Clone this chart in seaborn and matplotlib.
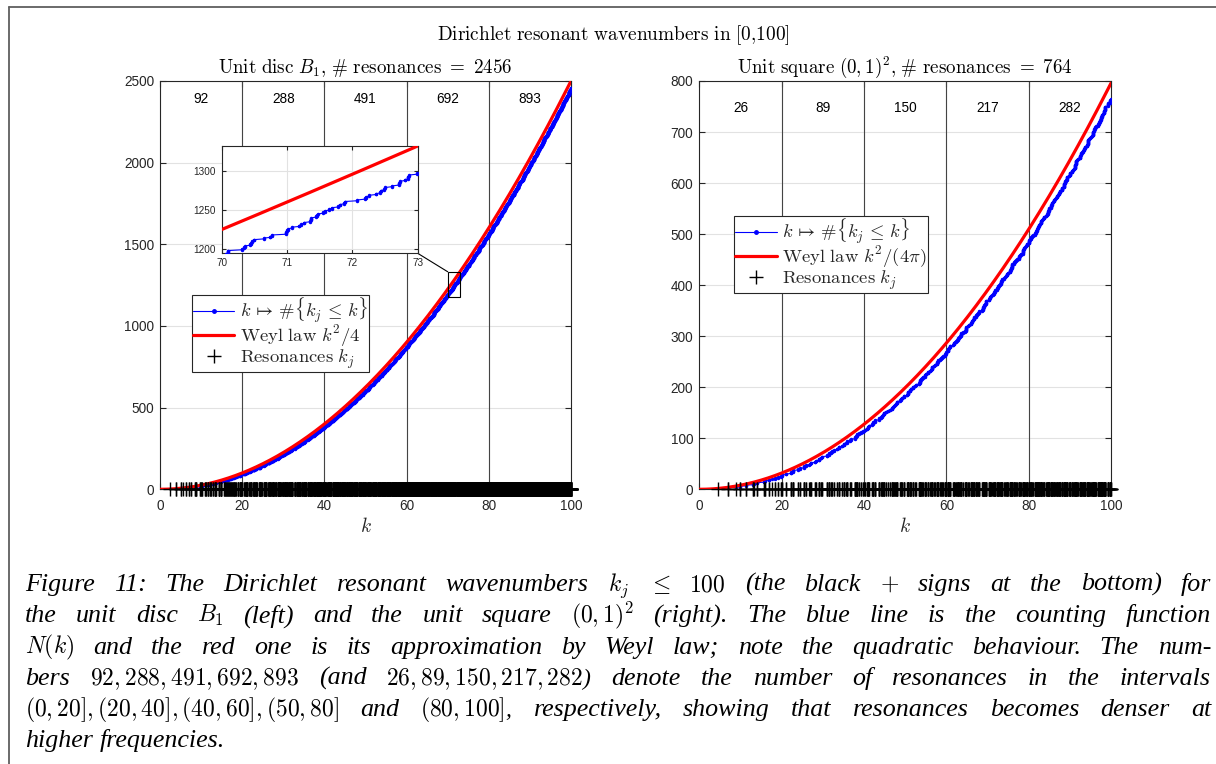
import numpy as np
import pandas as pd
import matplotlib
matplotlib.use("Agg")
import matplotlib.pyplot as plt
import seaborn as sns
from matplotlib.lines import Line2D
from matplotlib.patches import Rectangle, ConnectionPatch

# ---------------------------------------------------------------------------
# Values shown on the chart
# ---------------------------------------------------------------------------
k_max = 100
bin_edges = [0, 20, 40, 60, 80, 100]
disc_counts = [92, 288, 491, 692, 893]          # resonances per interval, unit disc
square_counts = [26, 89, 150, 217, 282]         # resonances per interval, unit square
disc_total = 2456
square_total = 764
x_ticks = [0, 20, 40, 60, 80, 100]
disc_y_ticks = [0, 500, 1000, 1500, 2000, 2500]
square_y_ticks = [0, 100, 200, 300, 400, 500, 600, 700, 800]
disc_ylim = (0, 2500)
square_ylim = (0, 800)
count_label_y = {"disc": 2390, "square": 748}
weyl_disc = 1 / 4                 # area(B_1) / (4 pi)
weyl_square = 1 / (4 * np.pi)     # area((0,1)^2) / (4 pi)
inset_xlim = (70, 73)
inset_ylim = (1194.5, 1332.25)
inset_x_ticks = [70, 71, 72, 73]
inset_y_ticks = [1200, 1250, 1300]
zoom_box = (70, 1178, 3, 154)     # x, y, width, height of the zoom marker

caption_lines = [
    r"Figure 11:  The Dirichlet resonant wavenumbers $k_j$ $\leq$ $100$ (the black $+$ signs at the bottom) for",
    r"the unit disc $B_1$ (left) and the unit square $(0,1)^2$ (right).  The blue line is the counting function",
    r"$N(k)$ and the red one is its approximation by Weyl law; note the quadratic behaviour.  The num-",
    r"bers $92,288,491,692,893$ (and $26,89,150,217,282$) denote the number of resonances in the intervals",
    r"$(0,20],(20,40],(40,60],(50,80]$ and $(80,100]$, respectively, showing that resonances becomes denser at",
    r"higher frequencies.",
]


# ---------------------------------------------------------------------------
# Dirichlet eigen-wavenumbers
# ---------------------------------------------------------------------------
_TAU = np.linspace(0.0, 2 * np.pi, 512, endpoint=False)
_SIN_TAU = np.sin(_TAU)


def bessel_j(n, x):
    """J_n(x) from the Bessel integral, trapezoidal rule (spectrally accurate)."""
    x = np.atleast_1d(np.asarray(x, dtype=float))
    return np.cos(n * _TAU[None, :] - x[:, None] * _SIN_TAU[None, :]).mean(axis=1)


def disc_wavenumbers(kmax):
    roots = []
    for n in range(0, int(kmax) + 1):
        x = np.arange(max(float(n), 0.5), kmax + 0.5, 0.1)
        if x.size < 2:
            break
        f = bessel_j(n, x)
        idx = np.nonzero(np.sign(f[:-1]) * np.sign(f[1:]) < 0)[0]
        if idx.size == 0:
            continue
        a, b, fa = x[idx].copy(), x[idx + 1].copy(), f[idx].copy()
        for _ in range(55):
            c = 0.5 * (a + b)
            fc = bessel_j(n, c)
            same = np.sign(fc) == np.sign(fa)
            a = np.where(same, c, a)
            fa = np.where(same, fc, fa)
            b = np.where(same, b, c)
        z = 0.5 * (a + b)
        z = z[z <= kmax]
        roots.extend(list(z) * (1 if n == 0 else 2))
    return np.sort(np.array(roots))


def square_wavenumbers(kmax):
    m = np.arange(1, int(kmax / np.pi) + 2)
    k = np.pi * np.sqrt(m[:, None] ** 2 + m[None, :] ** 2).ravel()
    return np.sort(k[k <= kmax])


def interval_counts(k):
    return [int(np.sum((k > a) & (k <= b))) for a, b in zip(bin_edges[:-1], bin_edges[1:])]


k_disc = disc_wavenumbers(k_max)
k_square = square_wavenumbers(k_max)
if interval_counts(k_disc) != disc_counts or interval_counts(k_square) != square_counts:
    raise ValueError(f"interval counts {interval_counts(k_disc)} {interval_counts(k_square)}")

# ---------------------------------------------------------------------------
# Style
# ---------------------------------------------------------------------------
sns.set_theme(style="whitegrid")
plt.rcParams["font.family"] = ["Liberation Sans", "DejaVu Sans"]
plt.rcParams["mathtext.fontset"] = "cm"
plt.rcParams["axes.unicode_minus"] = False

AX_COLOR = "#262626"
GRID_COLOR = "#e2e2e2"
BIN_LINE_COLOR = "#444444"

W, H = 1216, 764
fig = plt.figure(figsize=(W / 100, H / 100), dpi=100)
fig.patch.set_facecolor("white")


def px_axes(x0, y_top, x1, y_bot):
    return fig.add_axes([x0 / W, 1 - y_bot / H, (x1 - x0) / W, (y_bot - y_top) / H])


def style_axes(ax, xticks, yticks, xlim, ylim, labelsize, xpad, ypad, ticklen):
    ax.set_xlim(*xlim)
    ax.set_ylim(*ylim)
    ax.set_xticks(xticks)
    ax.set_yticks(yticks)
    ax.set_facecolor("white")
    ax.grid(True, color=GRID_COLOR, lw=0.8)
    ax.set_axisbelow(True)
    for sp in ax.spines.values():
        sp.set_visible(True)
        sp.set_color(AX_COLOR)
        sp.set_linewidth(0.8)
    ax.tick_params(axis="both", which="both", direction="in", top=True, right=True,
                   bottom=True, left=True, length=ticklen, width=0.8,
                   color=AX_COLOR, labelcolor=AX_COLOR, labelsize=labelsize)
    ax.tick_params(axis="x", pad=xpad)
    ax.tick_params(axis="y", pad=ypad)
    ax.set_ylabel("")


def counting_curve(ax, k, lw=0.8, ms=5):
    df = pd.DataFrame({"k": k, "N": np.arange(1, len(k) + 1)})
    sns.lineplot(data=df, x="k", y="N", estimator=None, sort=False, ax=ax,
                 color="blue", lw=lw, marker=".", markersize=ms,
                 markeredgecolor="blue", markeredgewidth=0, zorder=3)


def weyl_curve(ax, coef, x0=0, x1=k_max):
    kk = np.linspace(x0, x1, 600)
    sns.lineplot(x=kk, y=coef * kk ** 2, estimator=None, sort=False, ax=ax,
                 color="red", lw=2.3, zorder=4)


LEGEND_KW = dict(loc="upper left", fontsize=13.4, frameon=True, fancybox=False,
                 framealpha=1, edgecolor=AX_COLOR, handlelength=2.25,
                 handletextpad=0.3, borderpad=0.05, labelspacing=-0.1,
                 borderaxespad=0)


def panel(ax, k, coef, counts, ylim, yticks, label_y, title, weyl_label, legend_anchor):
    counting_curve(ax, k)
    weyl_curve(ax, coef)
    ax.plot(k, np.zeros_like(k), ls="none", marker="+", ms=10, mew=1.0,
            color="black", clip_on=False, zorder=5)
    for e in bin_edges[1:-1]:
        ax.axvline(e, color=BIN_LINE_COLOR, lw=0.8, zorder=1.5)
    for c, a, b in zip(counts, bin_edges[:-1], bin_edges[1:]):
        ax.text((a + b) / 2, label_y, str(c), ha="center", va="center",
                fontsize=9.8, color="black", zorder=6)
    style_axes(ax, x_ticks, yticks, (0, k_max), ylim, 9.8, 7, 4.3, 4)
    ax.set_xlabel(r"$k$", fontsize=14, labelpad=3, color=AX_COLOR)
    ax.set_title(title, fontsize=13.7, pad=6, color="black")

    handles = [
        Line2D([], [], color="blue", lw=0.8, marker=".", ms=5),
        Line2D([], [], color="red", lw=2.3),
        Line2D([], [], color="black", ls="none", marker="+", ms=10, mew=1.0),
    ]
    labels = [r"$k\,\mapsto\,\#\{k_j\,\leq\,k\}$", weyl_label,
              r"$\mathrm{Resonances}\ k_j$"]
    leg = ax.legend(handles, labels, bbox_to_anchor=legend_anchor, **LEGEND_KW)
    leg.get_frame().set_linewidth(0.8)
    leg.set_zorder(10)


# ---------------------------------------------------------------------------
# Left: unit disc
# ---------------------------------------------------------------------------
ax1 = px_axes(160, 81, 571, 489.3)
panel(ax1, k_disc, weyl_disc, disc_counts, disc_ylim, disc_y_ticks,
      count_label_y["disc"],
      r"$\mathrm{Unit\ disc}\ B_1{,}\ \#\ \mathrm{resonances}\ =\ %d$" % disc_total,
      r"$\mathrm{Weyl\ law}\ k^2/4$", (0.077, 0.476))
ax1.add_patch(Rectangle(zoom_box[:2], zoom_box[2], zoom_box[3], fill=False,
                        ec="black", lw=0.8, zorder=7))

# ---------------------------------------------------------------------------
# Right: unit square
# ---------------------------------------------------------------------------
ax2 = px_axes(699.3, 81, 1111, 489.3)
panel(ax2, k_square, weyl_square, square_counts, square_ylim, square_y_ticks,
      count_label_y["square"],
      r"$\mathrm{Unit\ square}\ (0,1)^2{,}\ \#\ \mathrm{resonances}\ =\ %d$" % square_total,
      r"$\mathrm{Weyl\ law}\ k^2/(4\pi)$", (0.084, 0.670))

# ---------------------------------------------------------------------------
# Inset: zoom on the disc counting function
# ---------------------------------------------------------------------------
axin = px_axes(221.7, 146, 417.7, 253.3)
counting_curve(axin, k_disc, lw=0.8, ms=5)
weyl_curve(axin, weyl_disc, inset_xlim[0] - 1, inset_xlim[1] + 1)
style_axes(axin, inset_x_ticks, inset_y_ticks, inset_xlim, inset_ylim, 7.2, 3.5, 4.5, 3)
axin.set_xlabel("")
axin.set_zorder(20)

con = ConnectionPatch(xyA=(inset_xlim[1], inset_ylim[0]), coordsA=axin.transData,
                      xyB=(zoom_box[0], zoom_box[1] + zoom_box[3]), coordsB=ax1.transData,
                      color="black", lw=0.8)
fig.add_artist(con)

# ---------------------------------------------------------------------------
# Overall title, frame and caption
# ---------------------------------------------------------------------------
fig.text(613 / W, 1 - 35 / H, r"$\mathrm{Dirichlet\ resonant\ wavenumbers\ in\ [0{,}100]}$",
         ha="center", va="center", fontsize=13.9, color="black")

frame_kw = dict(transform=fig.transFigure, color="#5f5f5f", lw=1.3)
fig.add_artist(Line2D([8.5 / W, 8.5 / W], [0, 1 - 7 / H], **frame_kw))
fig.add_artist(Line2D([8.5 / W, 1], [1 - 7 / H, 1 - 7 / H], **frame_kw))

cap_kw = dict(family=["Liberation Serif", "DejaVu Serif"], style="italic", color="black",
              ha="left", va="baseline")
cap_text_size, cap_math_size = 18.7, 17.0
cap_x0, cap_x1 = 25, 1211
cap_base0, cap_step = 591, 31.3

fig.canvas.draw()
renderer = fig.canvas.get_renderer()
for i, line in enumerate(caption_lines):
    words = [w for w in line.split(" ") if w]
    arts = [fig.text(0, 0, w, fontsize=cap_math_size if w.startswith("$") else cap_text_size,
                     **cap_kw) for w in words]
    widths = [a.get_window_extent(renderer).width for a in arts]
    y = 1 - (cap_base0 + i * cap_step) / H
    if i < len(caption_lines) - 1:
        gap = (cap_x1 - cap_x0 - sum(widths)) / (len(words) - 1)
    else:
        gap = 6.5
    x = cap_x0
    for a, w in zip(arts, widths):
        a.set_position((x / W, y))
        x += w + gap

fig.savefig("out.png", dpi=100, facecolor="white")
